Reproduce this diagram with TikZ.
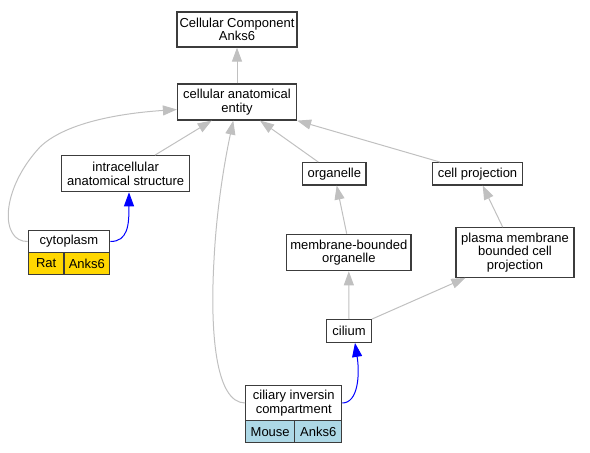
\documentclass[tikz,border=0pt]{standalone}
\usepackage{fontspec}
\setmainfont{Liberation Sans}
\usetikzlibrary{arrows.meta}
\definecolor{edgegray}{RGB}{192,192,192}
\definecolor{boxline}{RGB}{60,60,60}
\definecolor{ratcell}{RGB}{255,215,0}
\definecolor{mousecell}{RGB}{173,216,230}
\begin{document}
\begin{tikzpicture}[x=1pt,y=-1pt,
  box/.style={draw=boxline, line width=1.2pt, fill=white, inner sep=0pt, align=center,
    font=\fontsize{13}{13.5}\selectfont},
  ratbox/.style={box, fill=ratcell},
  mousebox/.style={box, fill=mousecell},
  garrow/.style={draw=edgegray, line width=1pt, -{Triangle[length=14pt,width=10pt,fill=edgegray]}},
  barrow/.style={draw=blue, line width=1pt, -{Triangle[length=14pt,width=10pt,fill=blue]}}]
\useasboundingbox (0,0) rectangle (590,453);
% nodes
\node[box, minimum width=120pt, minimum height=35pt] (cc) at (237,29.5) {Cellular Component\\Anks6};
\node[box, minimum width=119pt, minimum height=36pt] (cae) at (237,102) {cellular anatomical\\entity};
\node[box, minimum width=128pt, minimum height=36pt] (ias) at (125.7,173.7) {intracellular\\anatomical structure};
\node[box, minimum width=81.4pt, minimum height=22.4pt] (cyto) at (69,241.5) {cytoplasm};
\node[ratbox, minimum width=35.7pt, minimum height=21.6pt] (rat) at (46.2,263.5) {Rat};
\node[ratbox, minimum width=45.7pt, minimum height=21.6pt] (ratg) at (86.85,263.5) {Anks6};
\node[box, minimum width=63.3pt, minimum height=22.3pt] (org) at (334.3,173.8) {organelle};
\node[box, minimum width=90.4pt, minimum height=22.3pt] (cp) at (477.5,173.8) {cell projection};
\node[box, minimum width=124.3pt, minimum height=36.4pt] (mbo) at (348.8,252.5) {membrane-bounded\\organelle};
\node[box, minimum width=118pt, minimum height=49.6pt] (pm) at (515,252.5) {plasma membrane\\bounded cell\\projection};
\node[box, minimum width=44.6pt, minimum height=22.6pt] (cil) at (349,331) {cilium};
\node[box, minimum width=96pt, minimum height=35.4pt] (cic) at (293.7,403) {ciliary inversin\\compartment};
\node[mousebox, minimum width=49pt, minimum height=22pt] (mouse) at (270.2,431.7) {Mouse};
\node[mousebox, minimum width=47pt, minimum height=22pt] (mouseg) at (318.2,431.7) {Anks6};
% edges
\draw[garrow] (cae.north) -- (cc.south);
\draw[garrow] ([xshift=29.3pt]ias.north) -- ([xshift=-25.3pt]cae.south);
\draw[garrow] ([xshift=-16pt]org.north) -- ([xshift=23pt]cae.south);
\draw[garrow] ([xshift=-37.5pt]cp.north) -- (cae.south east);
\draw[garrow] (cyto.west) .. controls (0,242) and (0,190) .. (40,147)
  .. controls (70,118) and (140,112) .. ([yshift=-7.5pt]cae.west);
\draw[barrow] (cyto.east) .. controls (128,241.5) and (129,225) .. ([xshift=3.3pt]ias.south);
\draw[garrow] (cic.west) .. controls (215,403) and (210,330) .. (214,260)
  .. controls (217,200) and (227,150) .. ([xshift=-3.7pt]cae.south);
\draw[garrow] ([xshift=-2.1pt]mbo.north) -- ([xshift=2.4pt]org.south);
\draw[garrow] ([xshift=-12.3pt]pm.north) -- ([xshift=5.2pt]cp.south);
\draw[garrow] (cil.north) -- (mbo.south);
\draw[garrow] (cil.north east) -- ([xshift=10pt]pm.south west);
\draw[barrow] (cic.east) .. controls (358,403) and (360,375) .. ([xshift=6pt]cil.south);
\end{tikzpicture}
\end{document}
